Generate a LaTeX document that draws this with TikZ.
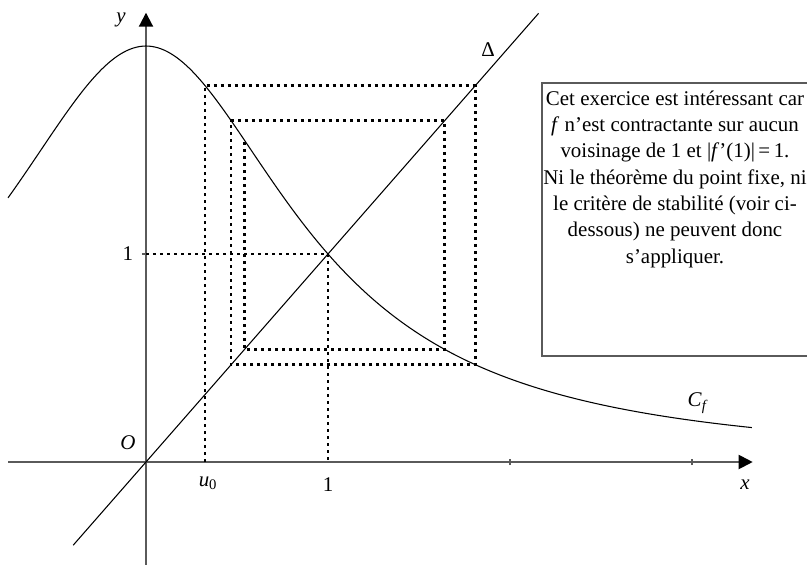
\documentclass[tikz,border=0pt]{standalone}
\usepackage{fontspec}
\setmainfont{Liberation Serif}
\usetikzlibrary{arrows.meta}
\definecolor{axegris}{HTML}{5A5A5A}

\tikzset{
  axe/.style={axegris,line width=1.5pt,-{Triangle[length=10.5pt,width=10.5pt,color=black]}},
  graduation/.style={axegris,line width=1pt},
  courbe/.style={black,line width=0.8pt},
  pointille/.style={black,line width=2pt,dash pattern=on 2.25pt off 3pt},
  cadre/.style={axegris,line width=1.5pt},
}

\begin{document}
\begin{tikzpicture}[x=136.5pt,y=156pt,font=\fontsize{15.7}{19.75}\selectfont]
  \clip (-0.8022,-0.4904) rectangle (3.6319,2.2212);
  % axes et graduations
  \draw[axe] (-0.7582,0) -- (3.3335,0);
  \draw[axe] (0,-0.52) -- (0,2.1601);
  \foreach \x in {2,3}
    \draw[graduation] (\x,-2.25pt) -- (\x,2.25pt);
  \draw[graduation] (-3pt,1) -- (0,1);
  \node (un y) at (-0.099,1) {1};
  \node (un x) at (1,-0.1106) {1};
  \node (orig) at (-0.099,0.0913) {\textit{O}};
  \node (nom x) at (3.291,-0.1106) {\textit{x}};
  \node (nom y) at (-0.137,2.125) {\textit{y}};
  % point fixe
  \draw[pointille] (0,1) -- (1,1) -- (1,0);
  % suite u_n
  \draw[pointille] (0.3242,0) -- (0.3242,1.80978) -- (1.80978,1.80978)
    -- (1.80978,0.467804) -- (0.467804,0.467804) -- (0.467804,1.64091)
    -- (1.64091,1.64091) -- (1.64091,0.541625) -- (0.541625,0.541625)
    -- (0.541625,1.54636);
  \node (u0) at (0.3407,-0.101) {\textit{u}\textsubscript{0}};
  % courbe et droite
  \draw[courbe,domain=-0.7582:3.3297,samples=120,smooth] plot (\x,{2/(1+\x*\x)});
  \draw[courbe] (-0.40,-0.40) -- (2.157,2.157);
  \node (cf) at (3.033,0.2837) {\textit{C}\textsubscript{\textit{f}}};
  \node (delta) at (1.879,1.981) {Δ};
  % remarque
  \draw[cadre] (2.1758,0.5096) rectangle (3.75,1.8207);
  \node[align=center,anchor=base] (remarque) at (2.9066,0.9567)
    {Cet exercice est intéressant car\\
     \textit{f} n’est contractante sur aucun\\
     voisinage de 1 et |\textit{f}’(1)|\,=\,1.\\
     Ni le théorème du point fixe, ni\\
     le critère de stabilité (voir ci-\\
     dessous) ne peuvent donc\\
     s’appliquer.};
\end{tikzpicture}
\end{document}
